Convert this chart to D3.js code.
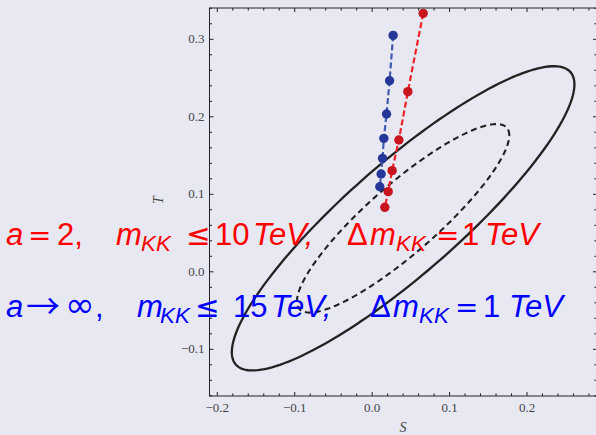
<!DOCTYPE html>
<html>
<head>
<meta charset="utf-8">
<script src="https://cdn.jsdelivr.net/npm/d3@7"></script>
<style>
  html, body { margin: 0; padding: 0; background: #e8e8f2; }
  svg { display: block; }
</style>
</head>
<body>
<svg id="chart"></svg>
<script>
// S,T fit: centre, widths and correlation, plus chi2 levels for the two contours
const fitCenter = [0.040, 0.069];
const fitSigma = [0.0904, 0.0802];
const fitRho = 0.88;
const chi2Levels = [5.99, 2.30];   // solid, dashed

// KK tower points (S, T)
const blueS = [0.0271, 0.0225, 0.0186, 0.0151, 0.0134, 0.0116, 0.0099];
const blueT = [0.3050, 0.2465, 0.2036, 0.1722, 0.1464, 0.1262, 0.1098];
const redS = [0.0659, 0.0461, 0.0345, 0.0258, 0.0207, 0.0164];
const redT = [0.3335, 0.2324, 0.1701, 0.1305, 0.1034, 0.0832];

const xTicks = [-0.2, -0.1, 0.0, 0.1, 0.2];
const yTicks = [-0.1, 0.0, 0.1, 0.2, 0.3];

const width = 596, height = 435;
const svg = d3.select("#chart").attr("width", width).attr("height", height);

const x = d3.scaleLinear().domain([-0.2, 0.2]).range([217.3, 527]);
const y = d3.scaleLinear().domain([-0.1, 0.3]).range([349.3, 39.3]);
const x0 = x.invert(209.5), x1 = x.invert(597);
const y0 = y.invert(396), y1 = y.invert(8);

const pL = x(x0), pR = x(x1), pT = y(y1), pB = y(y0);

svg.append("clipPath").attr("id", "clip")
  .append("rect").attr("x", pL).attr("y", pT)
  .attr("width", pR - pL).attr("height", pB - pT);

const plot = svg.append("g").attr("clip-path", "url(#clip)");

// contours
const ell = k => d3.range(0, 361, 2).map(a => {
  const t = a * Math.PI / 180;
  return [fitCenter[0] + k * fitSigma[0] * Math.cos(t),
          fitCenter[1] + k * fitSigma[1] * (fitRho * Math.cos(t) + Math.sqrt(1 - fitRho * fitRho) * Math.sin(t))];
});
const closed = d3.line().x(d => x(d[0])).y(d => y(d[1])).curve(d3.curveLinearClosed);

plot.append("path").attr("d", closed(ell(Math.sqrt(chi2Levels[0]))))
  .attr("fill", "none").attr("stroke", "#222").attr("stroke-width", 2.3);
plot.append("path").attr("d", closed(ell(Math.sqrt(chi2Levels[1]))))
  .attr("fill", "none").attr("stroke", "#222").attr("stroke-width", 2.1)
  .attr("stroke-dasharray", "6,4");

function series(sx, ty, lineCol, dotCol) {
  const pts = sx.map((s, i) => [s, ty[i]]);
  plot.append("path").attr("d", d3.line().x(d => x(d[0])).y(d => y(d[1]))(pts))
    .attr("fill", "none").attr("stroke", lineCol).attr("stroke-width", 2.2)
    .attr("stroke-dasharray", "6,3");
  plot.selectAll(null).data(pts).enter().append("circle")
    .attr("cx", d => x(d[0])).attr("cy", d => y(d[1])).attr("r", 4.7)
    .attr("fill", dotCol);
}
series(blueS, blueT, "#3f5cb0", "#26379a");
series(redS, redT, "#ee2228", "#c8141e");

// frame + ticks
const axisG = svg.append("g").attr("stroke", "#222").attr("stroke-width", 1);
axisG.append("rect").attr("x", pL).attr("y", pT)
  .attr("width", pR - pL).attr("height", pB - pT).attr("fill", "none");

const xMinor = d3.range(-0.2, 0.3, 0.02).map(v => +v.toFixed(2));
const yMinor = d3.range(-0.16, 0.35, 0.02).map(v => +v.toFixed(2));
const isMajor = v => Math.abs(v * 10 - Math.round(v * 10)) < 1e-6;

xMinor.filter(v => v >= x0 && v <= x1).forEach(v => {
  const len = isMajor(v) ? 4 : 2.6;
  axisG.append("line").attr("x1", x(v)).attr("x2", x(v)).attr("y1", pB).attr("y2", pB - len);
  axisG.append("line").attr("x1", x(v)).attr("x2", x(v)).attr("y1", pT).attr("y2", pT + len);
});
yMinor.filter(v => v >= y0 && v <= y1).forEach(v => {
  const len = isMajor(v) ? 4 : 2.6;
  axisG.append("line").attr("y1", y(v)).attr("y2", y(v)).attr("x1", pL).attr("x2", pL + len);
  axisG.append("line").attr("y1", y(v)).attr("y2", y(v)).attr("x1", pR).attr("x2", pR - len);
});

const fmt = d3.format(".1f");
const lab = svg.append("g").attr("font-family", "Liberation Serif, serif")
  .attr("font-size", 13).attr("fill", "#444");
lab.selectAll(null).data(xTicks).enter().append("text")
  .attr("x", d => x(d)).attr("y", pB + 16).attr("text-anchor", "middle")
  .text(d => fmt(d).replace("-", "\u2212"));
lab.selectAll(null).data(yTicks).enter().append("text")
  .attr("x", pL - 5).attr("y", d => y(d) + 4).attr("text-anchor", "end")
  .text(d => fmt(d).replace("-", "\u2212"));
lab.append("text").attr("x", x(0.04)).attr("y", 432).attr("text-anchor", "middle")
  .attr("font-style", "italic").attr("font-size", 14).text("S");
lab.append("text").attr("transform", "translate(163,200) rotate(-90)")
  .attr("text-anchor", "middle").attr("font-style", "italic").attr("font-size", 14).text("T");

// overlaid labels: [x, text, italic, subscript, symbol font, size factor, dy]
const fs = 31;
function mathLine(yb, col, parts) {
  const t = svg.append("text").attr("y", yb).attr("fill", col)
    .attr("font-family", "Liberation Sans, Arial, sans-serif").attr("font-size", fs);
  parts.forEach(p => {
    const ts = t.append("tspan").attr("x", p[0]).text(p[1])
      .attr("font-style", p[2] ? "italic" : "normal");
    if (p[4]) ts.attr("font-family", p[4] === 2 ? "Noto Sans CJK SC" : "DejaVu Sans")
      .attr("font-size", fs * (p[5] || 1));
    if (p[3]) ts.attr("font-size", fs * 0.72).attr("y", yb + 6);
    else ts.attr("y", yb + (p[6] || 0));
  });
}
mathLine(245, "#ff0000", [
  [6, "a", 1], [28, "=", 0, 0, 1, 0.9], [57, "2,", 0], [116, "m", 1], [141, "KK", 1, 1],
  [186, "\u2264", 0, 0, 1, 0.95], [215, "10", 0], [253, "TeV,", 1], [347, "\u0394", 0], [370, "m", 1],
  [396, "KK", 1, 1], [436, "=", 0, 0, 1, 0.9], [462, "1", 0], [485, "TeV", 1]
]);
mathLine(317, "#0000ff", [
  [6, "a", 1], [26, "\u2192", 0, 0, 2, 1.1, 2], [65, "\u221e", 0, 0, 1, 1.15], [95, ",", 0],
  [137, "m", 1], [160, "KK", 1, 1], [195, "\u2264", 0, 0, 1, 0.95], [233, "15", 0],
  [271, "TeV,", 1], [370, "\u0394", 0], [393, "m", 1], [419, "KK", 1, 1],
  [455, "=", 0, 0, 1, 0.9], [483, "1", 0], [509, "TeV", 1]
]);
</script>
</body>
</html>
